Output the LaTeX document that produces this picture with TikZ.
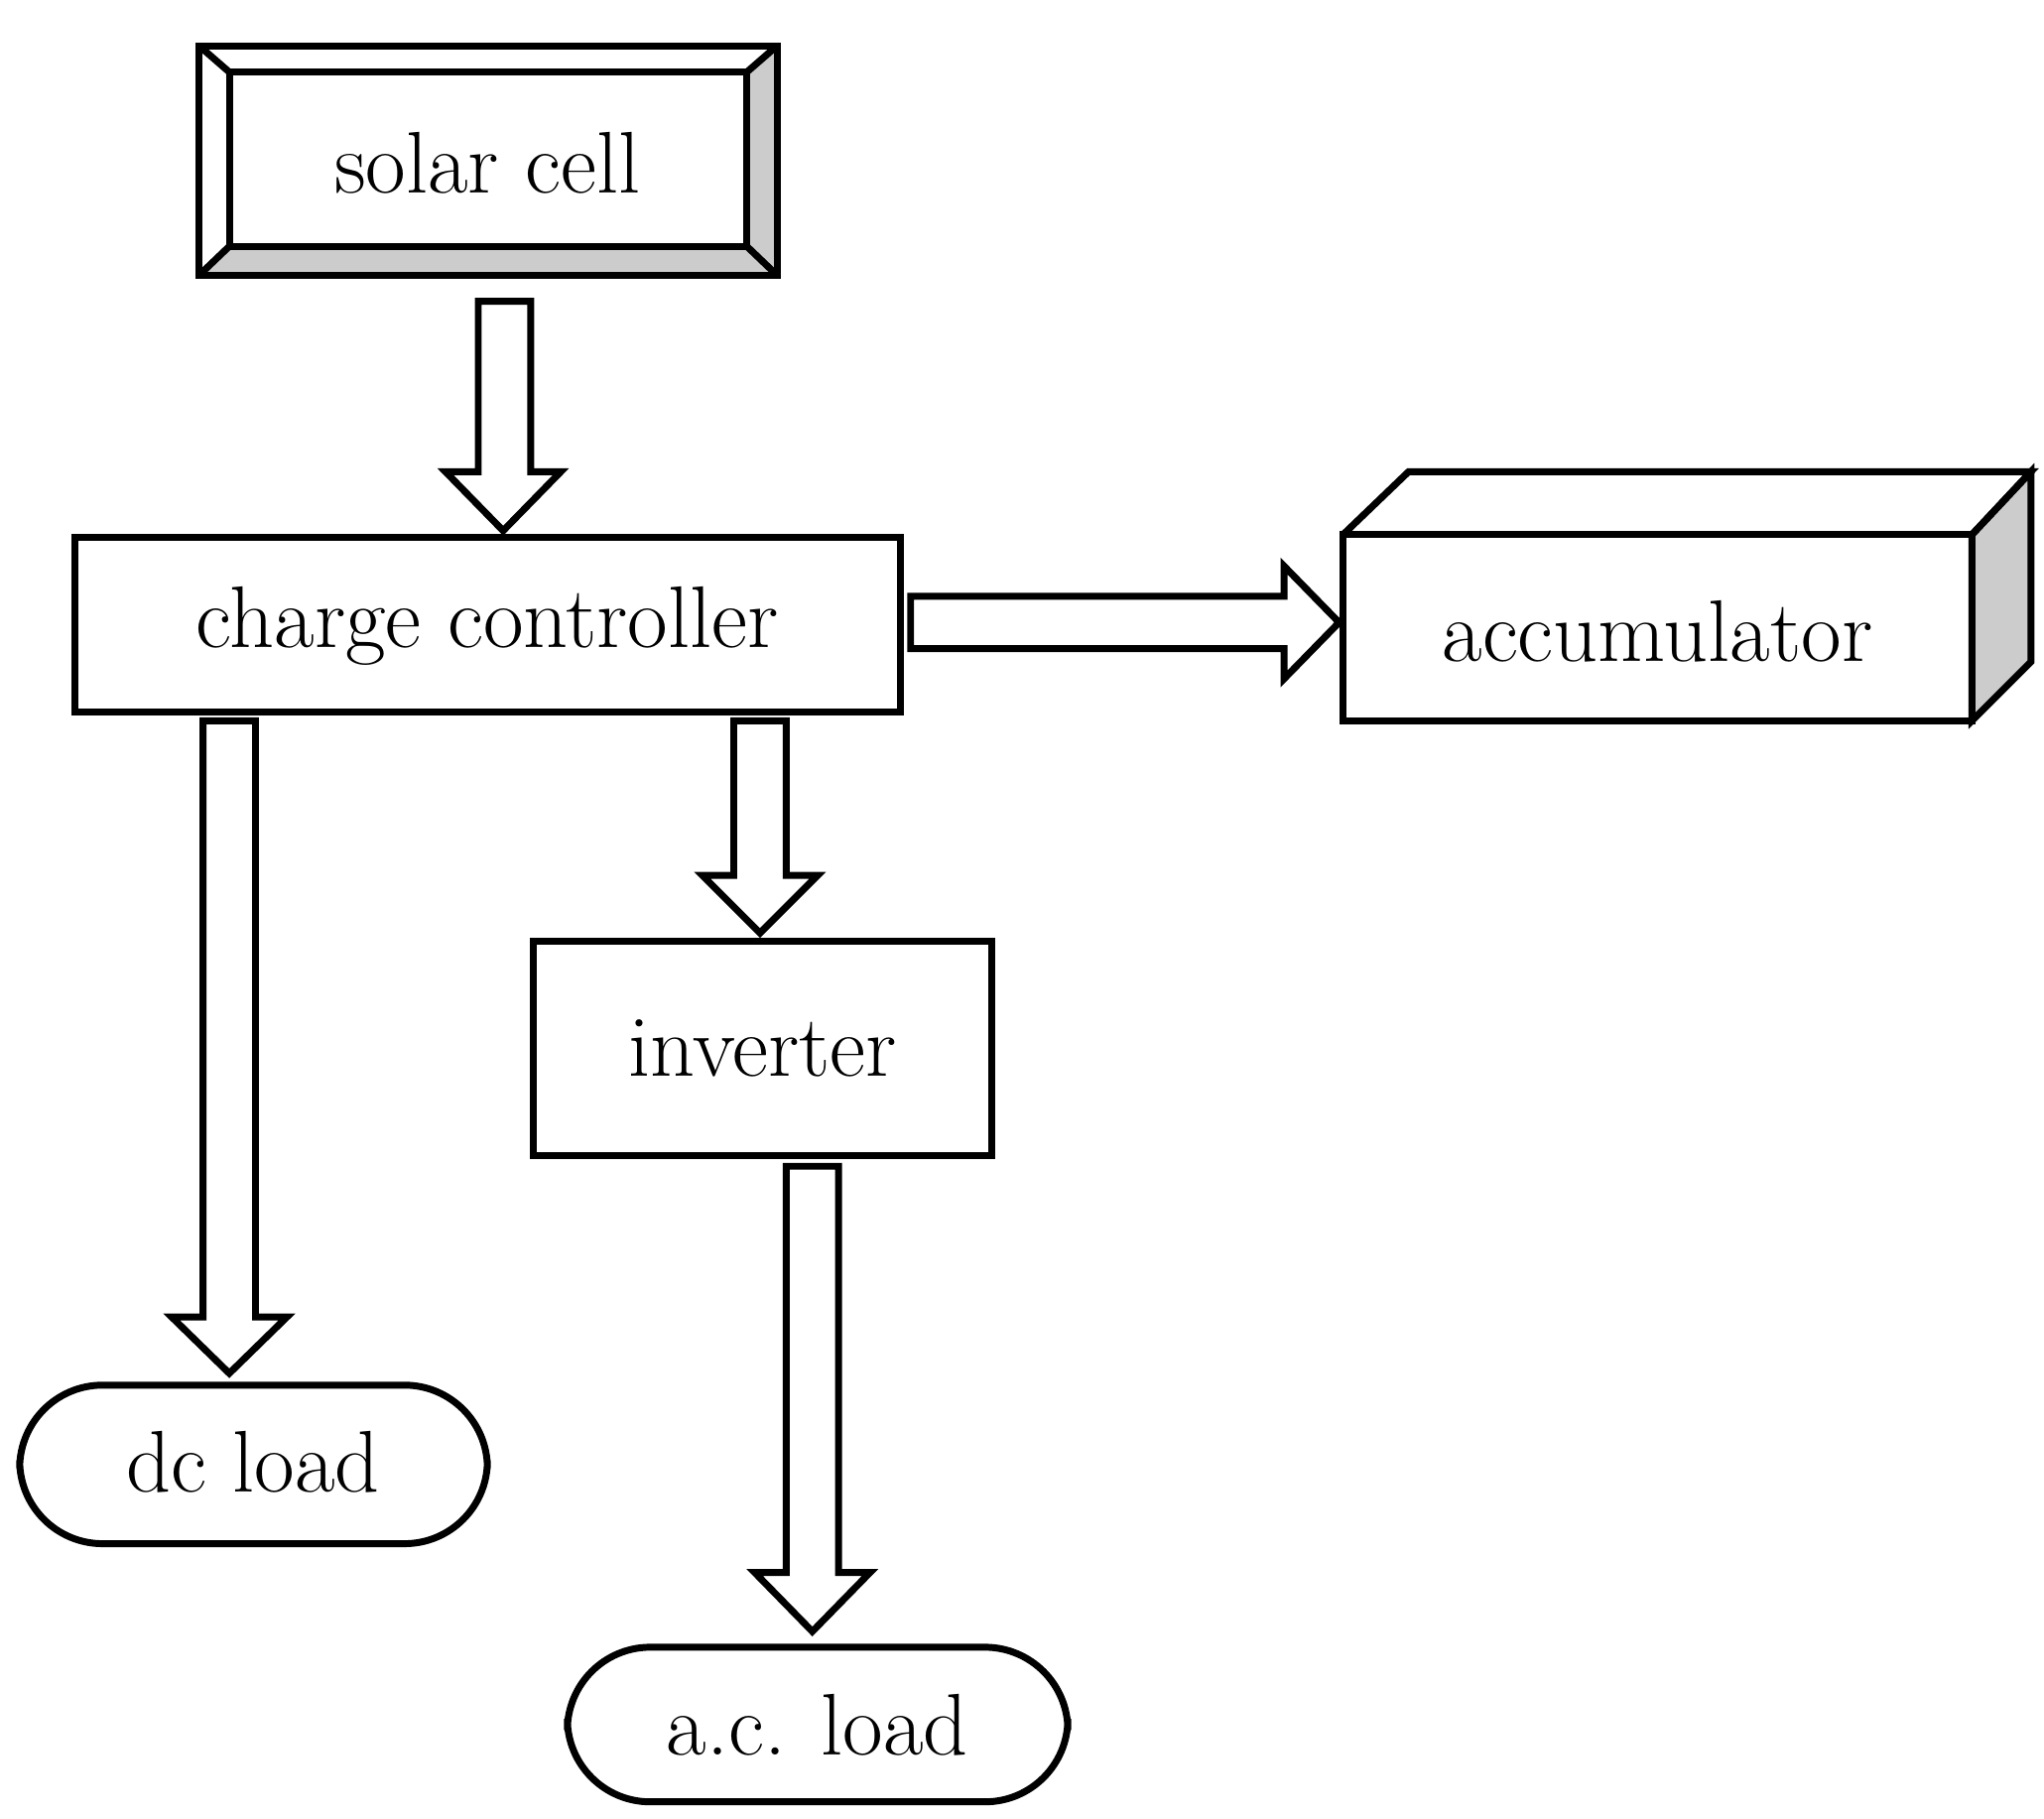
\documentclass[tikz,border=0pt]{standalone}
\begin{document}
\begin{tikzpicture}[x=0.01cm,y=-0.01cm,line width=1.5pt,line join=miter,
  txt/.style={font=\fontsize{19}{22}\selectfont},
  box/.style={draw,line width=1.5pt},
  harrow/.style={draw,fill=white,line width=1.5pt}]
\useasboundingbox (0,0) rectangle (1560,1388);
% solar cell
\fill[gray!40] (570,55) -- (593,35) -- (593,210) -- (152,210) -- (175,188) -- (570,188) -- cycle;
\draw (152,35) rectangle (593,210);
\draw (175,55) rectangle (570,188);
\draw (152,35) -- (175,55) (593,35) -- (570,55) (152,210) -- (175,188) (593,210) -- (570,188);
\node[txt] (solar) at (372,124) {solar cell};
% charge controller
\draw (57,410) rectangle (687,543);
\node[txt] (cc) at (372,478) {charge controller};
% accumulator
\draw[fill=gray!40] (1505,408) -- (1550,360) -- (1550,505) -- (1505,550) -- cycle;
\draw (1025,408) -- (1075,360) -- (1550,360) -- (1505,408);
\draw (1025,408) rectangle (1505,550);
\node[txt] (acc) at (1265,482) {accumulator};
% inverter
\draw (407,718) rectangle (757,882);
\node[txt] (inv) at (582,800) {inverter};
% loads
\draw[rounded corners=18] (15,1057) rectangle (372,1178);
\node[txt] (dc) at (193,1116) {dc load};
\draw[rounded corners=18] (433,1257) rectangle (815,1375);
\node[txt] (ac) at (624,1316) {a.c. load};
% hollow arrows
\draw[harrow] (365,230) -- (405,230) -- (405,360) -- (428,360) -- (384,405) -- (340,360) -- (365,360) -- cycle;
\draw[harrow] (695,455) -- (980,455) -- (980,432) -- (1022,475) -- (980,518) -- (980,495) -- (695,495) -- cycle;
\draw[harrow] (155,550) -- (195,550) -- (195,1005) -- (219,1005) -- (175,1048) -- (131,1005) -- (155,1005) -- cycle;
\draw[harrow] (560,550) -- (600,550) -- (600,668) -- (624,668) -- (580,712) -- (536,668) -- (560,668) -- cycle;
\draw[harrow] (600,890) -- (640,890) -- (640,1200) -- (664,1200) -- (620,1245) -- (576,1200) -- (600,1200) -- cycle;
\end{tikzpicture}
\end{document}
